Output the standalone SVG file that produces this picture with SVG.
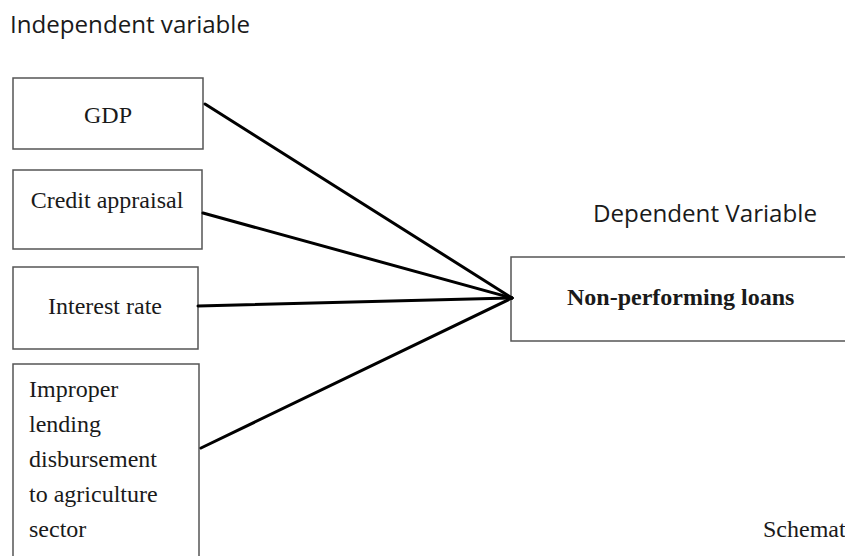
<svg xmlns="http://www.w3.org/2000/svg" width="845" height="556" viewBox="0 0 845 556">
<style>
.box{fill:#fff;stroke:#555;stroke-width:1.5}
.t{font-family:"Liberation Serif","Times New Roman",serif;font-size:24px;fill:#1a1a1a}
.b{font-weight:bold}
.h{font-family:"Open Sans","Noto Sans",sans-serif;font-size:23px;fill:#1a1a1a}
.c{stroke:#000;stroke-width:3;fill:none;stroke-linecap:round}
</style>
<rect width="845" height="556" fill="#fff"/>
<text class="h" x="10" y="33" textLength="240" lengthAdjust="spacingAndGlyphs">Independent variable</text>
<text class="h" x="593" y="222" textLength="224" lengthAdjust="spacingAndGlyphs">Dependent Variable</text>
<g id="gdp"><rect class="box" x="13" y="78" width="190" height="71"/><text class="t" x="108" y="123" text-anchor="middle">GDP</text></g>
<g id="credit"><rect class="box" x="13" y="170" width="189" height="79"/><text class="t" x="107" y="208" text-anchor="middle">Credit appraisal</text></g>
<g id="interest"><rect class="box" x="13" y="267" width="185" height="82"/><text class="t" x="105" y="314" text-anchor="middle">Interest rate</text></g>
<g id="improper"><rect class="box" x="13" y="364" width="186" height="200"/>
<text class="t" x="29" y="397">Improper</text>
<text class="t" x="29" y="432">lending</text>
<text class="t" x="29" y="467">disbursement</text>
<text class="t" x="29" y="502">to agriculture</text>
<text class="t" x="29" y="537">sector</text></g>
<g id="npl"><rect class="box" x="511" y="257" width="345" height="84"/><text class="t b" x="567" y="305">Non-performing loans</text></g>
<g id="connectors">
<line class="c" x1="205" y1="104" x2="512" y2="298"/>
<line class="c" x1="203" y1="213" x2="512" y2="298"/>
<line class="c" x1="198" y1="306" x2="512" y2="298"/>
<line class="c" x1="201" y1="448" x2="512" y2="298"/>
</g>
<text class="t" x="763" y="537" font-size="22">Schemat</text>
</svg>
